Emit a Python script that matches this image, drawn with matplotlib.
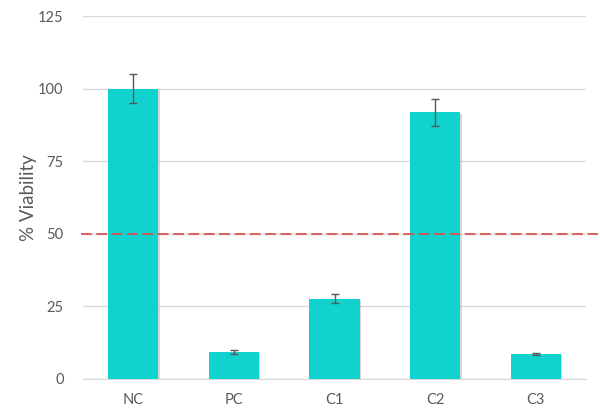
import matplotlib
matplotlib.use("Agg")
import matplotlib.pyplot as plt
import matplotlib.patheffects as pe

categories = ["NC", "PC", "C1", "C2", "C3"]
viability = [100.0, 9.2, 27.7, 91.8, 8.6]
errors = [5.0, 0.7, 1.4, 4.6, 0.5]
yticks = [0, 25, 50, 75, 100, 125]
threshold = 50

plt.rcParams['font.family'] = ['Lato', 'DejaVu Sans']
txt = '#595959'

fig = plt.figure(figsize=(6.0, 4.18), dpi=100)
L, R = 83, 586
ax = fig.add_axes([L/600, 1-379/418, (R-L)/600, (379-16)/418])

x = range(len(categories))
bars = ax.bar(x, viability, width=0.5, color='#0FD3CC', zorder=3,
              path_effects=[pe.SimplePatchShadow(offset=(1, -1), shadow_rgbFace='#bbbbbb', alpha=0.6), pe.Normal()])
ax.errorbar(x, viability, yerr=errors, fmt='none', ecolor='#595959', elinewidth=1,
            capsize=3, capthick=1, zorder=4)
ax.plot([(81-L)/(R-L), (598-L)/(R-L)], [threshold, threshold], transform=ax.get_yaxis_transform(),
        color='#D9534F', linestyle=(0, (6, 2.5)), linewidth=1.3, zorder=5, clip_on=False)

ax.set_ylim(0, 125)
ax.set_xlim(-0.5, len(categories) - 0.5)
ax.set_yticks(yticks)
ax.set_xticks(list(x))
ax.set_xticklabels(categories)
ax.tick_params(axis='both', length=0, labelsize=10.5, labelcolor=txt)
ax.tick_params(axis='y', pad=14)
ax.tick_params(axis='x', pad=10)
ax.yaxis.grid(True, color='#D9D9D9', linewidth=1, zorder=0)
ax.set_axisbelow(True)
for s in ['top', 'right', 'left']:
    ax.spines[s].set_visible(False)
ax.spines['bottom'].set_color('#D9D9D9')
ax.set_ylabel('% Viability', fontsize=13.5, color=txt)
ax.yaxis.set_label_coords(-(83-37)/(R-L), 0.5)

fig.savefig('out.png', dpi=100)
